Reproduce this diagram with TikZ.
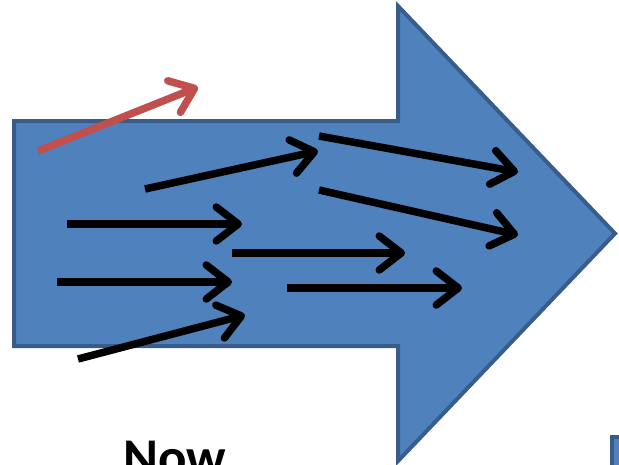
\documentclass[tikz,border=0pt]{standalone}
\usepackage{fontspec}
\setmainfont{Carlito}
\usetikzlibrary{arrows.meta}
\definecolor{shapeblue}{HTML}{4F81BD}
\definecolor{shapeedge}{HTML}{385D8A}
\definecolor{redarrow}{HTML}{C0504D}
\tikzset{
  flow/.style={line width=7.5pt, black, -{Straight Barb[length=22pt,width=34pt,round]}},
  redflow/.style={flow, draw=redarrow},
  bigarrow/.style={fill=shapeblue, draw=shapeedge, line width=4pt, line join=miter},
}
\begin{document}
\begin{tikzpicture}[x=1pt,y=-1pt]
\useasboundingbox (0,0) rectangle (619,464);
\fill[white] (0,0) rectangle (619,464);
% big arrow
\draw[bigarrow] (14,121) -- (398,121) -- (398,6) -- (615,233.5) -- (398,461) -- (398,346) -- (14,346) -- cycle;
% partial shape bottom right
\draw[bigarrow] (612,437) rectangle (660,500);
% coordinates
\coordinate (r1) at (38,151);  \coordinate (r2) at (198,87);
\coordinate (a1) at (145,189); \coordinate (a2) at (318,151);
\coordinate (b1) at (319,136); \coordinate (b2) at (518,172);
\coordinate (c1) at (319,190); \coordinate (c2) at (518,235);
\coordinate (d1) at (232,253); \coordinate (d2) at (405,253);
\coordinate (e1) at (287,288); \coordinate (e2) at (462,288);
\coordinate (f1) at (67,224);  \coordinate (f2) at (242,224);
\coordinate (g1) at (57,282);  \coordinate (g2) at (232,282);
\coordinate (h1) at (78,359);  \coordinate (h2) at (245,315);
\draw[redflow] (r1) -- (r2);
\foreach \s in {a,b,c,d,e,f,g,h}
  \draw[flow] (\s1) -- (\s2);
\node[anchor=base west, inner sep=0pt, font=\bfseries\fontsize{53}{53}\selectfont] (now) at (123,475) {Now};
\end{tikzpicture}
\end{document}
